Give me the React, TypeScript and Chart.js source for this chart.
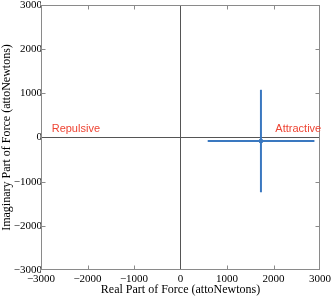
import React, { useEffect, useRef } from "react";
import { Chart, registerables } from "chart.js";

Chart.register(...registerables);

// Data (attoNewtons)
const pointX = [1730];
const pointY = [-80];
const xErrLow = [585];
const xErrHigh = [2880];
const yErrLow = [-1240];
const yErrHigh = [1080];

const axisMin = -3000;
const axisMax = 3000;
const tickStep = 1000;

const annotationTexts = ["Repulsive", "Attractive"];
const annotationX = [-2770, 2040];
const annotationY = [190, 195];

const xTitle = "Real Part of Force (attoNewtons)";
const yTitle = "Imaginary Part of Force (attoNewtons)";

const serif = "'Liberation Serif', 'Times New Roman', serif";
const sans = "'Liberation Sans', Arial, sans-serif";

const fmt = (v: number | string) => String(v).replace("-", "\u2212");

const framePlugin = {
  id: "frameTicks",
  afterDraw(chart: any) {
    const { ctx, chartArea } = chart;
    const xs = chart.scales.x;
    const ys = chart.scales.y;
    const l = Math.round(chartArea.left) + 0.5;
    const r = Math.round(chartArea.right) - 0.5;
    const t = Math.round(chartArea.top) + 0.5;
    const b = Math.round(chartArea.bottom) - 0.5;
    ctx.save();
    ctx.strokeStyle = "#8a8a8a";
    ctx.lineWidth = 1;
    ctx.strokeRect(l, t, r - l, b - t);
    const len = 4;
    ctx.beginPath();
    xs.ticks.forEach((tk: any) => {
      if (tk.value === 0 || tk.value === axisMin || tk.value === axisMax) return;
      const px = Math.round(xs.getPixelForValue(tk.value)) + 0.5;
      ctx.moveTo(px, b);
      ctx.lineTo(px, b - len);
      ctx.moveTo(px, t);
      ctx.lineTo(px, t + len);
    });
    ys.ticks.forEach((tk: any) => {
      if (tk.value === 0 || tk.value === axisMin || tk.value === axisMax) return;
      const py = Math.round(ys.getPixelForValue(tk.value)) + 0.5;
      ctx.moveTo(l, py);
      ctx.lineTo(l + len, py);
      ctx.moveTo(r, py);
      ctx.lineTo(r - len, py);
    });
    ctx.stroke();

    ctx.fillStyle = "#ee4433";
    ctx.font = `11px ${sans}`;
    ctx.textAlign = "left";
    ctx.textBaseline = "middle";
    annotationTexts.forEach((txt, i) => {
      ctx.fillText(
        txt,
        xs.getPixelForValue(annotationX[i]),
        ys.getPixelForValue(annotationY[i])
      );
    });
    ctx.restore();
  },
};

export default function App() {
  const ref = useRef<HTMLCanvasElement | null>(null);

  useEffect(() => {
    if (!ref.current) return;
    const datasets: any[] = [];
    pointX.forEach((px, i) => {
      datasets.push({
        type: "line",
        data: [
          { x: xErrLow[i], y: pointY[i] },
          { x: xErrHigh[i], y: pointY[i] },
        ],
        borderColor: "#3a78c0",
        borderWidth: 2,
        pointRadius: 0,
        fill: false,
      });
      datasets.push({
        type: "line",
        data: [
          { x: px, y: yErrLow[i] },
          { x: px, y: yErrHigh[i] },
        ],
        borderColor: "#3a78c0",
        borderWidth: 2,
        pointRadius: 0,
        fill: false,
      });
      datasets.push({
        type: "scatter",
        data: [{ x: px, y: pointY[i] }],
        backgroundColor: "#1f5a9e",
        borderColor: "#1f5a9e",
        pointRadius: 2,
        pointStyle: "rect",
      });
    });

    const common = (title: string, isY: boolean) => ({
      type: "linear",
      min: axisMin,
      max: axisMax,
      ticks: {
        stepSize: tickStep,
        autoSkip: false,
        maxRotation: 0,
        padding: isY ? -1 : 3,
        color: "#000",
        font: { family: serif, size: 11 },
        callback: (v: any) => fmt(v),
      },
      grid: {
        drawTicks: false,
        color: (c: any) => (c.tick && c.tick.value === 0 ? "#555555" : "rgba(0,0,0,0)"),
        lineWidth: 1,
      },
      border: { display: false },
      title: {
        display: true,
        text: title,
        color: "#000",
        font: { family: serif, size: 12 },
        padding: 0,
      },
      afterFit: (s: any) => {
        if (isY) {
          s.width = 41;
          s.paddingTop = 0;
          s.paddingBottom = 0;
        } else {
          s.height = 27;
          s.paddingLeft = 0;
          s.paddingRight = 0;
        }
      },
    });

    const chart = new Chart(ref.current, {
      type: "scatter",
      data: { datasets },
      options: {
        animation: false,
        responsive: false,
        maintainAspectRatio: false,
        layout: { padding: { top: 3, right: 12, left: 0, bottom: 0 } },
        plugins: { legend: { display: false }, tooltip: { enabled: false } },
        scales: {
          x: common(xTitle, false) as any,
          y: common(yTitle, true) as any,
        },
      },
      plugins: [framePlugin],
    });
    return () => chart.destroy();
  }, []);

  return (
    <div style={{ position: "fixed", left: 0, top: 0, width: 332, height: 297, background: "#fff" }}>
      <canvas ref={ref} width={332} height={297} style={{ width: 332, height: 297, display: "block" }} />
    </div>
  );
}
